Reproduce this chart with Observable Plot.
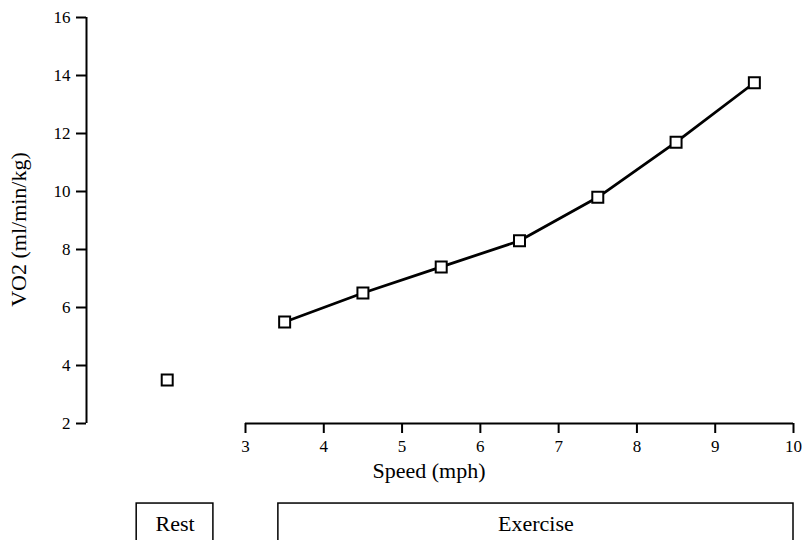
<!DOCTYPE html>
<html>
<head>
<meta charset="utf-8">
<script src="https://cdn.jsdelivr.net/npm/d3@7"></script>
<script src="https://cdn.jsdelivr.net/npm/@observablehq/plot@0.6"></script>
<style>
  html, body { margin: 0; padding: 0; background: #fff; }
  #chart { width: 802px; height: 540px; overflow: hidden; }
</style>
</head>
<body>
<div id="chart"></div>
<script>
// Exercise stage: treadmill speed (mph) and VO2 (ml/min/kg)
const speeds = [3.5, 4.5, 5.5, 6.5, 7.5, 8.5, 9.5];
const vo2 = [5.5, 6.5, 7.4, 8.3, 9.8, 11.7, 13.75];
// Rest value, drawn left of the speed axis
const restX = [2];
const restVo2 = [3.5];
// Tick labels
const yTicks = [2, 4, 6, 8, 10, 12, 14, 16];
const xTicks = [3, 4, 5, 6, 7, 8, 9, 10];
// Phase boxes under the axis
const phases = ["Rest", "Exercise"];
const phaseStart = [1.61, 3.42];
const phaseEnd = [2.59, 10];

const exercise = speeds.map((s, i) => ({x: s, y: vo2[i]}));
const rest = restX.map((s, i) => ({x: s, y: restVo2[i]}));
const boxes = phases.map((p, i) => ({label: p, x1: phaseStart[i], x2: phaseEnd[i]}));

const xMin = 0.969;
const font = "Liberation Serif, Times New Roman, serif";

const chart = Plot.plot({
  width: 802,
  height: 540,
  marginTop: 17,
  marginBottom: 117,
  marginLeft: 86,
  marginRight: 9,
  style: {fontFamily: font, fontSize: "17px", color: "#000", background: "#fff"},
  x: {domain: [xMin, 10]},
  y: {domain: [2, 16]},
  marks: [
    Plot.ruleX([xMin], {y1: 2, y2: 16, stroke: "#000", strokeWidth: 2}),
    Plot.ruleY([2], {x1: 3, x2: 10, stroke: "#000", strokeWidth: 2}),
    Plot.axisY({ticks: yTicks, tickSize: 10, tickPadding: 6, label: null, strokeWidth: 2, fontSize: 17}),
    Plot.axisX({ticks: xTicks, tickSize: 10, tickPadding: 6, label: null, strokeWidth: 2, fontSize: 17}),
    Plot.text(["VO2 (ml/min/kg)"], {frameAnchor: "left", textAnchor: "middle", dx: -68, dy: 9, rotate: -90, fontSize: 22, fill: "#000"}),
    Plot.text(["Speed (mph)"], {frameAnchor: "bottom", dx: -11, dy: 54, fontSize: 22, fill: "#000"}),
    Plot.line(exercise, {x: "x", y: "y", stroke: "#000", strokeWidth: 2.8}),
    Plot.dot(exercise.concat(rest), {x: "x", y: "y", symbol: "square", r: 6.2, fill: "#fff", stroke: "#000", strokeWidth: 2}),
    Plot.rect(boxes, {x1: "x1", x2: "x2", y1: -0.76, y2: -3, fill: "none", stroke: "#000", strokeWidth: 1.5}),
    Plot.text(boxes, {x: d => (d.x1 + d.x2) / 2, y: -1.45, text: "label", fontSize: 22, fill: "#000"})
  ]
});
document.getElementById("chart").append(chart);
</script>
</body>
</html>
